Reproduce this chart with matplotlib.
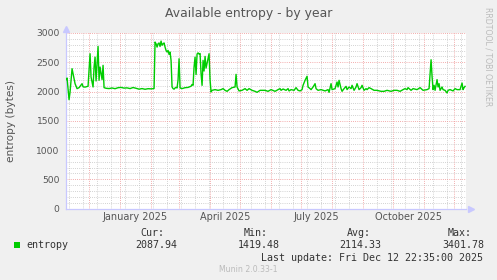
import numpy as np
import matplotlib
matplotlib.use("Agg")
import matplotlib.pyplot as plt
import matplotlib.dates as mdates
from matplotlib.patches import Rectangle

# daily samples: days after 2024-11-08, available entropy (bytes)
day_offset = [
    0, 1, 3, 4, 6, 9, 11, 13, 16, 17, 19, 22, 24, 25, 27, 28, 29, 30, 32, 33, 34, 36, 37, 38,
    40, 43, 46, 49, 52, 55, 58, 61, 64, 67, 70, 73, 76, 79, 82, 85, 88,
    89, 90, 91, 92, 93, 94, 95, 96, 97, 98, 99, 100, 101, 102, 103, 104, 105, 106,
    107, 108, 109, 110, 111, 112, 113, 114, 116, 119, 122, 125, 126, 127, 128, 129, 130,
    131, 132, 133, 134, 135, 136, 137, 138, 139, 140, 142, 143, 144, 145, 146,
    149, 152, 155, 157, 159, 161, 163, 166, 169, 170, 171, 173, 176, 179, 181, 183, 186,
    189, 191, 194,
    199, 202, 205, 209, 212, 214, 215, 217, 220, 222, 223, 225, 228, 230, 232, 234, 236,
    237, 239, 241, 242, 244, 245, 247, 249, 250, 252, 255, 259, 262, 263, 265,
    266, 269, 271, 272, 273, 275, 276, 278, 280, 281, 283, 285, 286, 288, 290, 291, 293,
    295, 296, 298, 300, 301, 303, 305, 308, 311, 315, 318, 321, 325, 328,
    331, 334, 337, 339, 341, 342, 345, 347, 351, 354, 357, 361, 363, 364, 365, 366, 367,
    368, 369, 371, 372, 373, 374, 376, 377, 379, 381, 382, 384, 387, 389, 391, 394, 396,
    397, 398, 399,
]
entropy = [
    2203, 2230, 1860, 1990, 2390, 2134, 2049, 2066, 2134, 2080, 2075, 2090, 2646, 2247, 2077,
    2418, 2588, 2180, 2770, 2191, 2418, 2203, 2447, 2066,
    2055, 2050, 2060, 2048, 2065, 2070, 2058, 2062, 2050, 2068, 2055, 2040, 2050, 2038, 2048,
    2045, 2050,
    2845, 2816, 2759, 2816, 2830, 2770, 2862, 2790, 2816, 2830, 2759, 2702, 2675, 2702, 2634,
    2675, 2532, 2077,
    2050, 2040, 2060, 2070, 2060, 2200, 2560, 2060, 2050, 2065, 2070, 2090, 2120, 2106, 2418,
    2588, 2290, 2640, 2660, 2640, 2650, 2305, 2105, 2532, 2350, 2600, 2400, 2560, 2646, 2200,
    1992, 2020,
    2032, 2020, 2032, 2049, 2020, 2003, 2032, 2066, 2077, 2293, 2077, 2010, 2020, 2049, 2020,
    2049, 2020, 2003, 1986, 2020,
    2020, 2003, 2032, 2003, 2032, 2049, 2020, 2043, 2020, 2049, 2010, 2032, 2020, 2066, 2020,
    2010, 2032, 2106, 2191, 2260, 2077, 2049, 2032, 2077, 2134, 2049, 2020, 2032, 2010, 2032,
    1986, 2134,
    2032, 2049, 2162, 2077, 2191, 2049, 2003, 2049, 2088, 2032, 2077, 2049, 2106, 2020, 2077,
    2134, 2032, 2066, 2106, 2020, 2049, 2032, 2066, 2049, 2020, 2020, 2003, 2003, 2020, 2003,
    2020,
    2020, 2003, 2032, 2049, 2032, 2066, 2020, 2049, 2032, 2066, 2020, 2032, 2049, 2293, 2543,
    2259, 2032, 2106, 2020, 2203, 2077, 2134, 2020, 2077, 2032, 2020, 1975, 2020, 2032, 2010,
    2049, 2032, 2032, 2145, 2032, 2066, 2088,
]

x_labels = ["January 2025", "April 2025", "July 2025", "October 2025"]
x_label_dates = ["2025-01-16", "2025-04-16", "2025-07-16", "2025-10-16"]
y_ticks = [0, 500, 1000, 1500, 2000, 2500, 3000]

stat_names = ["Cur:", "Min:", "Avg:", "Max:"]
stat_values = ["2087.94", "1419.48", "2114.33", "3401.78"]

W, H = 497, 280
fig = plt.figure(figsize=(W / 100, H / 100), dpi=100, facecolor="#F0F0F0")
ax = fig.add_axes([66 / W, (H - 208.5) / H, 400 / W, 175.5 / H])
ax.set_facecolor("white")

dates = np.datetime64("2024-11-08") + np.array(day_offset, dtype="timedelta64[D]")
ax.plot(dates, entropy, color="#00CC00", lw=1.0, zorder=3)

ax.set_xlim(np.datetime64("2024-11-07T22:35"), np.datetime64("2025-12-12T22:35"))
ax.set_ylim(0, 3000)

# grid: red at months / every 500, grey at 2 weeks / every 100
ax.xaxis.set_major_locator(mdates.MonthLocator())
ax.xaxis.set_minor_locator(mdates.WeekdayLocator(byweekday=mdates.MO, interval=2))
ax.set_yticks(y_ticks)
ax.yaxis.set_minor_locator(matplotlib.ticker.MultipleLocator(100))
ax.grid(which="minor", color="#C8C8C8", lw=0.7, ls=(0, (0.8, 1.4)), zorder=1)
ax.grid(which="major", color="#F09A9A", lw=0.7, ls=(0, (0.8, 1.4)), zorder=2)

ax.tick_params(axis="x", which="both", length=0, labelbottom=False)
ax.tick_params(axis="y", which="both", length=0, pad=4.5, labelsize=6.6, labelcolor="#555555")

for name in ["top", "right"]:
    ax.spines[name].set_visible(False)
for name in ["left", "bottom"]:
    ax.spines[name].set_color("#C8C8FF")
    ax.spines[name].set_linewidth(0.9)
ax.plot([0], [1.02], marker="^", ms=3.8, color="#C8C8FF", transform=ax.transAxes, clip_on=False)
ax.plot([1.012], [0], marker=">", ms=3.8, color="#C8C8FF", transform=ax.transAxes, clip_on=False)

for lab, d in zip(x_labels, x_label_dates):
    ax.text(mdates.date2num(np.datetime64(d)), -0.047, lab, transform=ax.get_xaxis_transform(),
            ha="center", va="center", fontsize=7.0, color="#555555")

fig.text(248.5 / W, 1 - 13.5 / H, "Available entropy - by year", ha="center", va="center",
         fontsize=8.9, color="#555555")
fig.text(11 / W, 1 - 121 / H, "entropy (bytes)", rotation=90, ha="center", va="center",
         fontsize=7.6, color="#555555")
fig.text(488 / W, 1 - 56.5 / H, "RRDTOOL / TOBI OETIKER", rotation=270, ha="center", va="center",
         fontsize=5.6, color="#BBBBBB")

# legend block
mono = "DejaVu Sans Mono"
fig.patches.append(Rectangle((14 / W, 1 - 247.7 / H), 6 / W, 6 / H, transform=fig.transFigure,
                             facecolor="#00CC00", edgecolor="none"))
fig.text(26.7 / W, 1 - 245 / H, "entropy", family=mono, fontsize=7.2, color="#333333", va="center")
name_x = [140.7, 243.3, 346.7, 447.7]
value_x = [135, 237.3, 339.3, 442.3]
for nm, val, nx, vx in zip(stat_names, stat_values, name_x, value_x):
    fig.text(nx / W, 1 - 233.3 / H, nm, family=mono, fontsize=7.2, color="#333333", va="center")
    fig.text(vx / W, 1 - 245 / H, val, family=mono, fontsize=7.2, color="#333333", va="center")
fig.text(483.3 / W, 1 - 257.7 / H, "Last update: Fri Dec 12 22:35:00 2025", family=mono,
         fontsize=7.2, color="#333333", va="center", ha="right")
fig.text(248.5 / W, 1 - 269.3 / H, "Munin 2.0.33-1", fontsize=5.6, color="#BBBBBB",
         ha="center", va="center")

fig.savefig("out.png", dpi=100, facecolor=fig.get_facecolor())
